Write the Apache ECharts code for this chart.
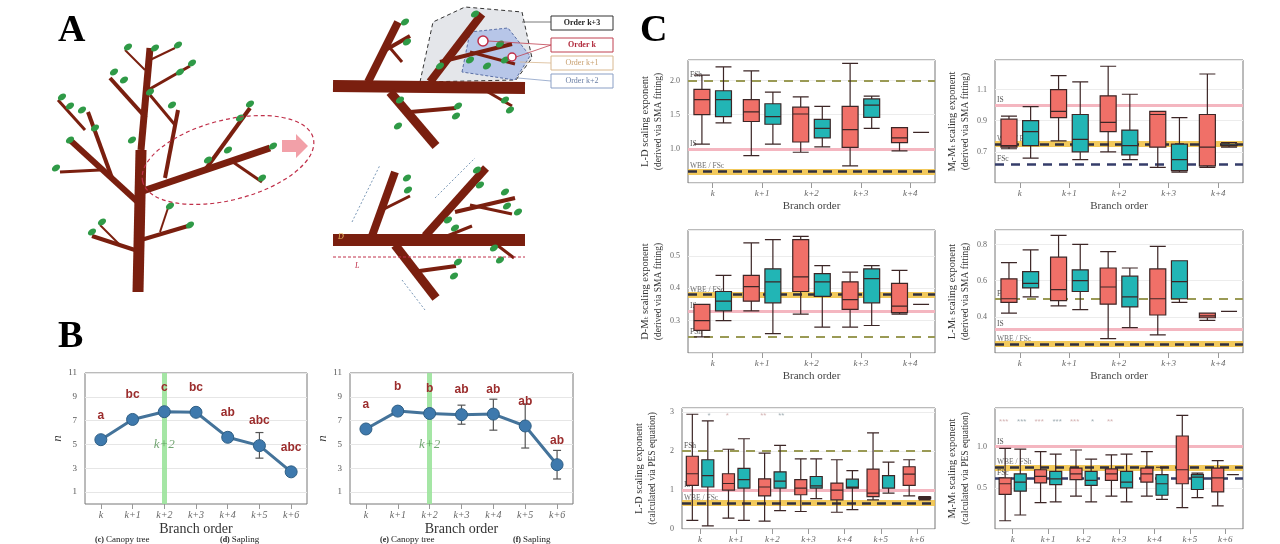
<!DOCTYPE html>
<html><head><meta charset="utf-8">
<script src="https://cdn.jsdelivr.net/npm/echarts@6/dist/echarts.min.js"></script>
<style>html,body{margin:0;padding:0;background:#fff}#c{width:1280px;height:544px}</style>
</head><body><div id="c"></div>
<script>
// ---------- Panel B data ----------
const orders7 = ['k','k+1','k+2','k+3','k+4','k+5','k+6'];
const orders5 = ['k','k+1','k+2','k+3','k+4'];
const nCanopy = [5.4, 7.1, 7.75, 7.7, 5.6, 4.9, 2.7];
const nCanopyErr = [[5.3,5.5],[7.0,7.2],[7.65,7.85],[7.6,7.8],[5.3,6.0],[3.85,6.0],[2.6,2.8]];
const nCanopyLetters = ['a','bc','c','bc','ab','abc','abc'];
const nSapling = [6.3, 7.8, 7.6, 7.5, 7.55, 6.55, 3.3];
const nSaplingErr = [[6.2,6.4],[7.7,7.9],[7.5,7.7],[6.7,8.3],[6.2,8.8],[4.7,8.4],[2.1,4.5]];
const nSaplingLetters = ['a','b','b','ab','ab','ab','ab'];
const yTicksB = [1,3,5,7,9,11];

// ---------- Panel C data: [min, Q1, median, Q3, max] ----------
const ldSmaRed  = [[1.07,1.5,1.72,1.87,2.08],[0.9,1.4,1.54,1.72,2.14],[0.95,1.1,1.51,1.61,1.76],[0.75,1.02,1.28,1.62,2.25],[0.97,1.09,1.16,1.31,1.31]];
const ldSmaTeal = [[1.38,1.47,1.72,1.85,2.2],[1.07,1.36,1.47,1.66,1.83],[1.03,1.16,1.3,1.43,1.62],[1.3,1.46,1.64,1.73,1.77],[1.24,1.24,1.24,1.24,1.24]];
const mmSmaRed  = [[0.72,0.73,0.74,0.91,0.93],[0.77,0.92,0.96,1.1,1.19],[0.7,0.83,0.89,1.06,1.25],[0.6,0.73,0.94,0.96,0.96],[0.6,0.61,0.73,0.94,1.2]];
const mmSmaTeal = [[0.66,0.74,0.83,0.9,0.99],[0.65,0.7,0.78,0.94,1.15],[0.65,0.68,0.74,0.84,1.07],[0.57,0.58,0.65,0.75,0.92],[0.73,0.74,0.74,0.75,0.76]];
const dmSmaRed  = [[0.25,0.27,0.3,0.35,0.35],[0.33,0.36,0.405,0.44,0.54],[0.32,0.39,0.435,0.55,0.56],[0.28,0.335,0.365,0.42,0.45],[0.32,0.325,0.345,0.415,0.455]];
const dmSmaTeal = [[0.3,0.33,0.36,0.39,0.44],[0.26,0.355,0.42,0.46,0.55],[0.28,0.375,0.42,0.445,0.47],[0.285,0.355,0.43,0.46,0.47],[0.35,0.35,0.35,0.35,0.35]];
const lmSmaRed  = [[0.42,0.48,0.5,0.61,0.7],[0.46,0.49,0.55,0.73,0.85],[0.28,0.47,0.565,0.67,0.76],[0.3,0.41,0.5,0.665,0.79],[0.38,0.395,0.405,0.42,0.42]];
const lmSmaTeal = [[0.51,0.56,0.585,0.65,0.77],[0.44,0.54,0.6,0.66,0.8],[0.34,0.455,0.51,0.625,0.67],[0.48,0.5,0.595,0.71,0.71],[0.43,0.43,0.43,0.43,0.43]];
const ldPesRed  = [[0.22,1.12,1.42,1.87,2.95],[0.28,1.0,1.17,1.42,2.05],[0.2,0.85,1.08,1.29,1.95],[0.45,0.88,1.05,1.27,1.8],[0.43,0.75,1.0,1.18,1.78],[0.75,0.83,0.92,1.54,2.47],[0.85,1.12,1.41,1.6,1.78]];
const ldPesTeal = [[0.08,1.08,1.37,1.78,2.78],[0.22,1.05,1.27,1.56,2.32],[0.47,1.05,1.23,1.47,2.15],[0.78,1.05,1.11,1.35,1.8],[0.5,1.05,1.08,1.28,1.5],[0.92,1.05,1.37,1.37,1.72],[0.75,0.78,0.8,0.82,0.83]];
const mmPesRed  = [[0.1,0.42,0.55,0.62,0.98],[0.32,0.56,0.64,0.72,0.94],[0.4,0.6,0.67,0.74,0.96],[0.4,0.59,0.67,0.73,0.9],[0.4,0.57,0.67,0.74,0.94],[0.26,0.55,0.72,1.13,1.38],[0.28,0.45,0.62,0.74,0.83]];
const mmPesTeal = [[0.17,0.46,0.57,0.67,0.97],[0.33,0.54,0.61,0.7,0.91],[0.33,0.53,0.59,0.7,0.85],[0.33,0.5,0.57,0.7,0.91],[0.36,0.41,0.55,0.66,0.75],[0.38,0.48,0.63,0.66,0.68],[0.66,0.66,0.66,0.66,0.66]];
const ldPesStarsRed = [['k+1',2.92,'*'],['k+2',2.92,'**']];
const ldPesStarsTeal = [['k',2.92,'*'],['k+2',2.92,'**']];
const mmPesStarsRed = [['k',1.3,'***'],['k+1',1.3,'***'],['k+2',1.3,'***'],['k+3',1.3,'**']];
const mmPesStarsTeal = [['k',1.3,'***'],['k+1',1.3,'***'],['k+2',1.3,'*']];

const SERIF = '"Liberation Serif","DejaVu Serif",serif';
const RED='#f07068', TEAL='#22b5b5';

const grids=[], xAxes=[], yAxes=[], series=[];
function addGrid(g){grids.push(Object.assign({show:true,borderColor:'#777',borderWidth:1,backgroundColor:'#fff'},g));return grids.length-1;}

// ---------- Panel B ----------
function panelB(gi, vals, errs, letters){
  xAxes.push({gridIndex:gi,type:'category',data:orders7,boundaryGap:true,
    axisLine:{show:false},axisTick:{show:true,alignWithLabel:true,lineStyle:{color:'#999'}},
    axisLabel:{fontFamily:SERIF,fontStyle:'italic',fontSize:10,color:'#666',margin:6},
    name:'Branch order',nameLocation:'middle',nameGap:18,nameTextStyle:{fontFamily:SERIF,fontSize:14,color:'#333'},
    splitLine:{show:false}});
  yAxes.push({gridIndex:gi,type:'value',min:0,max:11,interval:1,
    axisLine:{show:false},axisTick:{show:false},
    axisLabel:{fontFamily:SERIF,fontSize:9,color:'#555',formatter:v=>yTicksB.includes(v)?String(v):''},
    splitLine:{lineStyle:{color:['transparent','#e6e6e6']}},
    name:'n',nameLocation:'middle',nameGap:20,nameRotate:90,nameTextStyle:{fontFamily:SERIF,fontStyle:'italic',fontSize:13,color:'#333'}});
  const ai=xAxes.length-1;
  series.push({type:'line',xAxisIndex:ai,yAxisIndex:ai,data:[],silent:true,z:0,
    markLine:{silent:true,symbol:'none',z:0,label:{show:false},lineStyle:{color:'#9be39b',width:5,type:'solid',opacity:0.9},data:[{xAxis:'k+2'}]}});
  series.push({type:'custom',xAxisIndex:ai,yAxisIndex:ai,data:errs.map((e,i)=>[i,e[0],e[1]]),z:3,
    renderItem:(p,api)=>{const lo=api.coord([api.value(0),api.value(1)]),hi=api.coord([api.value(0),api.value(2)]);
      const st={stroke:'#555',lineWidth:1.2};
      return {type:'group',children:[
        {type:'line',shape:{x1:lo[0],y1:lo[1],x2:hi[0],y2:hi[1]},style:st},
        {type:'line',shape:{x1:lo[0]-4,y1:lo[1],x2:lo[0]+4,y2:lo[1]},style:st},
        {type:'line',shape:{x1:hi[0]-4,y1:hi[1],x2:hi[0]+4,y2:hi[1]},style:st}]};}});
  series.push({type:'line',xAxisIndex:ai,yAxisIndex:ai,data:vals,z:4,symbol:'circle',symbolSize:12,
    lineStyle:{color:'#44739a',width:3},itemStyle:{color:'#3e79ad',borderColor:'#2f5f85',borderWidth:1},
    labelLayout:{hideOverlap:false},
    label:{show:true,position:'top',distance:12,fontFamily:'Liberation Sans',fontWeight:'bold',fontSize:12,color:'#9b2c2c',
      formatter:p=>letters[p.dataIndex]}});
  series.push({type:'scatter',xAxisIndex:ai,yAxisIndex:ai,data:[['k+2',5]],symbolSize:0,z:5,
    label:{show:true,position:'inside',formatter:'k+2',fontFamily:SERIF,fontStyle:'italic',fontSize:13,color:'#4f8f4f'}});
}
panelB(addGrid({left:85,top:373,width:222,height:131}), nCanopy, nCanopyErr, nCanopyLetters);
panelB(addGrid({left:350,top:373,width:223,height:131}), nSapling, nSaplingErr, nSaplingLetters);

// ---------- Panel C ----------
function refLines(lines){
  const d=[];
  lines.forEach(l=>{
    if(l.kind==='pink') d.push({yAxis:l.y,lineStyle:{color:'#f4b6c0',width:3,type:'solid'},label:{formatter:l.t}});
    if(l.kind==='olive') d.push({yAxis:l.y,lineStyle:{color:'#9a9a55',width:2,type:[9,7]},label:{formatter:l.t}});
    if(l.kind==='navy') d.push({yAxis:l.y,lineStyle:{color:'#353d6a',width:2.5,type:[9,7]},label:{formatter:l.t}});
    if(l.kind==='wbe'){d.push({yAxis:l.y,lineStyle:{color:'#f0c040',width:6,type:'solid',opacity:0.85},label:{formatter:l.t}});
      d.push({yAxis:l.y,lineStyle:{color:'#2f2f3f',width:2.5,type:[9,6]},label:{show:false}});}
  });
  return d;
}
function panelC(g, cats, red, teal, yOpt, nameL1, nameL2, lines, showXName, starsR, starsT){
  const gi=addGrid(g);
  xAxes.push({gridIndex:gi,type:'category',data:cats,
    axisLine:{show:false},axisTick:{show:true,alignWithLabel:true,lineStyle:{color:'#999'}},
    axisLabel:{fontFamily:SERIF,fontStyle:'italic',fontSize:9,color:'#666',margin:6},
    splitLine:{show:false},
    name:showXName?'Branch order':'',nameLocation:'middle',nameGap:18,nameTextStyle:{fontFamily:SERIF,fontSize:11,color:'#444'}});
  yAxes.push({gridIndex:gi,type:'value',min:yOpt.min,max:yOpt.max,interval:yOpt.interval,
    axisLine:{show:false},axisTick:{show:false},
    splitLine:{lineStyle:{color:'#ececec'}},
    name:'{a|'+nameL1+'}\n{b|'+nameL2+'}',nameLocation:'middle',nameGap:24,nameRotate:90,
    nameTextStyle:{rich:{a:{fontFamily:SERIF,fontSize:10.5,color:'#333',lineHeight:13},b:{fontFamily:SERIF,fontSize:9.5,color:'#333',lineHeight:12}}},
    axisLabel:{fontFamily:SERIF,fontSize:8,color:'#666',formatter:v=>yOpt.show.some(s=>Math.abs(s-v)<1e-6)?v.toFixed(yOpt.dec):''}});
  const ai=xAxes.length-1;
  const box=(data,color)=>({type:'boxplot',xAxisIndex:ai,yAxisIndex:ai,data:data,boxWidth:[12,16],
    itemStyle:{color:color,borderColor:'#3c2626',borderWidth:1.2}});
  const r=box(red,RED);
  r.markLine={silent:true,symbol:'none',z:1,label:{show:true,position:'insideStartTop',distance:[2,1],fontFamily:SERIF,fontSize:7.5,color:'#555'},data:refLines(lines)};
  series.push(r); series.push(box(teal,TEAL));
  if(starsR){
    series.push({type:'scatter',xAxisIndex:ai,yAxisIndex:ai,data:starsR,symbolSize:0,label:{show:true,position:'inside',offset:[-9,0],formatter:p=>p.data[2],fontSize:8,color:'#c9a0a0'}});
    series.push({type:'scatter',xAxisIndex:ai,yAxisIndex:ai,data:starsT,symbolSize:0,label:{show:true,position:'inside',offset:[9,0],formatter:p=>p.data[2],fontSize:8,color:'#8a9aa0'}});
  }
}
panelC({left:688,top:60,width:247,height:123},orders5,ldSmaRed,ldSmaTeal,{min:0.5,max:2.3,interval:0.5,show:[1,1.5,2],dec:1},
  'L-D scaling exponent','(derived via SMA fitting)',
  [{kind:'olive',y:2.0,t:'FSh'},{kind:'pink',y:1.0,t:'IS'},{kind:'wbe',y:0.67,t:'WBE / FSc'}],true);
panelC({left:995,top:60,width:248,height:123},orders5,mmSmaRed,mmSmaTeal,{min:0.5,max:1.29,interval:0.2,show:[0.7,0.9,1.1],dec:1},
  'Mᵢ-Mₜ scaling exponent','(derived via SMA fitting)',
  [{kind:'pink',y:1.0,t:'IS'},{kind:'wbe',y:0.75,t:'WBE / FSh'},{kind:'navy',y:0.62,t:'FSc'}],true);
panelC({left:688,top:230,width:247,height:123},orders5,dmSmaRed,dmSmaTeal,{min:0.2,max:0.58,interval:0.1,show:[0.3,0.4,0.5],dec:1},
  'D-Mₜ scaling exponent','(derived via SMA fitting)',
  [{kind:'wbe',y:0.375,t:'WBE / FSc'},{kind:'pink',y:0.333,t:'IS'},{kind:'olive',y:0.25,t:'FSh'}],true);
panelC({left:995,top:230,width:248,height:123},orders5,lmSmaRed,lmSmaTeal,{min:0.2,max:0.88,interval:0.2,show:[0.4,0.6,0.8],dec:1},
  'L-Mₜ scaling exponent','(derived via SMA fitting)',
  [{kind:'olive',y:0.5,t:'FSh'},{kind:'pink',y:0.333,t:'IS'},{kind:'wbe',y:0.25,t:'WBE / FSc'}],true);
panelC({left:682,top:408,width:253,height:124},orders7,ldPesRed,ldPesTeal,{min:0,max:3.11,interval:1,show:[0,1,2,3],dec:0},
  'L-D scaling exponent','(calculated via PES equation)',
  [{kind:'olive',y:2.0,t:'FSh'},{kind:'pink',y:1.0,t:'IS'},{kind:'wbe',y:0.67,t:'WBE / FSc'}],false,ldPesStarsRed,ldPesStarsTeal);
panelC({left:995,top:408,width:248,height:124},orders7,mmPesRed,mmPesTeal,{min:0,max:1.47,interval:0.5,show:[0.5,1],dec:1},
  'Mᵢ-Mₜ scaling exponent','(calculated via PES equation)',
  [{kind:'pink',y:1.0,t:'IS'},{kind:'wbe',y:0.75,t:'WBE / FSh'},{kind:'navy',y:0.62,t:'FSc'}],false,mmPesStarsRed,mmPesStarsTeal);

// ---------- Panel A illustration (graphic) ----------
const BROWN='#7a1f0f', LEAF='#2f9a47';
const segs=[
 [138,292,141,150,11],[141,150,150,48,7],[141,205,70,140,6],[100,170,60,172,3],[112,178,88,112,4],[85,130,58,100,3],
 [140,192,270,148,7],[205,170,250,108,4],[230,160,262,182,3],[165,178,178,110,4],[175,125,150,95,3],
 [146,118,110,78,4],[148,90,190,66,3],[141,240,188,226,4],[141,252,92,236,4],[120,245,100,225,2],[160,232,168,208,2],
 [145,70,125,50,2],[150,60,175,48,2]];
const leaves=[[62,97],[70,106],[56,168],[82,110],[95,128],[114,72],[124,80],[192,63],[180,72],[172,105],[150,92],[250,104],[240,118],[262,178],
 [273,146],[228,150],[208,160],[190,225],[92,232],[102,222],[170,206],[155,48],[128,47],[178,45],[70,140],[132,140]];
const segsTR=[[333,86,525,88,12],[368,82,398,22,8],[382,52,410,36,4],[385,42,402,62,3],[430,82,482,14,8],[440,62,512,44,4],[470,52,515,64,3],
 [390,92,436,146,9],[410,112,456,108,4],[488,92,512,106,3]];
const leavesTR=[[405,22],[407,42],[475,14],[470,60],[487,66],[500,44],[505,60],[440,66],[458,106],[456,116],[505,100],[510,110],[400,100],[398,126]];
const segsBR=[[333,240,525,240,12],[372,236,395,172,8],[382,210,410,196,3],[425,236,486,168,8],[455,212,515,198,4],[470,205,512,214,3],
 [447,236,472,226,3],[395,245,436,298,9],[412,272,456,266,4],[497,245,514,258,3]];
const leavesBR=[[407,178],[408,190],[477,170],[480,185],[505,192],[507,206],[518,212],[455,228],[448,220],[458,262],[454,276],[494,248],[500,260]];
const gEls=[];
function drawTree(sg,lv){
  sg.forEach(s=>gEls.push({type:'line',shape:{x1:s[0],y1:s[1],x2:s[2],y2:s[3]},style:{stroke:BROWN,lineWidth:s[4],lineCap:'butt'},z:10}));
  lv.forEach(l=>gEls.push({type:'ellipse',shape:{cx:l[0],cy:l[1],rx:4.5,ry:3},rotation:0.6,originX:l[0],originY:l[1],style:{fill:LEAF},z:11}));
}
gEls.push({type:'polygon',shape:{points:[[420,82],[433,22],[465,7],[522,12],[532,58],[516,80]]},style:{fill:'#e4e6ea',stroke:'#333',lineDash:[4,3],lineWidth:1},z:5});
gEls.push({type:'polygon',shape:{points:[[462,72],[470,32],[508,28],[530,56],[515,80]]},style:{fill:'#b7c6e8',stroke:'#5a6fa5',lineDash:[3,2],lineWidth:1},z:6});
drawTree(segs,leaves); drawTree(segsTR,leavesTR); drawTree(segsBR,leavesBR);
gEls.push({type:'ellipse',shape:{cx:228,cy:160,rx:88,ry:40},rotation:0.25,originX:228,originY:160,style:{fill:'none',stroke:'#c0304a',lineDash:[4,3],lineWidth:1.2},z:12});
gEls.push({type:'polygon',shape:{points:[[282,140],[296,140],[296,134],[308,146],[296,158],[296,152],[282,152]]},style:{fill:'#f2a0a8'},z:12});
gEls.push({type:'circle',shape:{cx:483,cy:41,r:5},style:{fill:'#fff',stroke:'#c0304a',lineWidth:1.5},z:13});
gEls.push({type:'circle',shape:{cx:512,cy:57,r:4},style:{fill:'#fff',stroke:'#c0304a',lineWidth:1.5},z:13});
const boxes=[['Order k+3',16,'#222','#333',true],['Order k',38,'#b0283a','#c04050',true],['Order k+1',56,'#c8a070','#d8b890',false],['Order k+2',74,'#6a7fa5','#8a9fc5',false]];
boxes.forEach(b=>{
  gEls.push({type:'rect',shape:{x:551,y:b[1],width:62,height:14},style:{fill:'#fff',stroke:b[3],lineWidth:1},z:12});
  gEls.push({type:'text',x:582,y:b[1]+7,style:{text:b[0],fill:b[2],font:(b[4]?'bold ':'')+'8px "Liberation Serif"',align:'center',verticalAlign:'middle'},z:13});
});
gEls.push({type:'polyline',shape:{points:[[522,22],[551,22]]},style:{stroke:'#555',lineWidth:0.8},z:12});
gEls.push({type:'polyline',shape:{points:[[488,41],[551,45],[516,57]]},style:{stroke:'#c04050',fill:'none',lineWidth:0.8},z:12});
gEls.push({type:'polyline',shape:{points:[[520,62],[551,63]]},style:{stroke:'#d8b890',lineWidth:0.8},z:12});
gEls.push({type:'polyline',shape:{points:[[518,78],[551,81]]},style:{stroke:'#8a9fc5',lineWidth:0.8},z:12});
gEls.push({type:'line',shape:{x1:333,y1:257,x2:525,y2:257},style:{stroke:'#c0304a',lineDash:[3,2],lineWidth:1},z:12});
gEls.push({type:'text',x:355,y:262,style:{text:'L',fill:'#c0304a',font:'italic 8px "Liberation Serif"'},z:13});
gEls.push({type:'text',x:338,y:233,style:{text:'D',fill:'#e8b860',font:'italic 8px "Liberation Serif"'},z:13});
gEls.push({type:'line',shape:{x1:352,y1:222,x2:380,y2:165},style:{stroke:'#5a7fa5',lineDash:[2,2],lineWidth:0.8},z:12});
gEls.push({type:'line',shape:{x1:435,y1:198,x2:475,y2:158},style:{stroke:'#5a7fa5',lineDash:[2,2],lineWidth:0.8},z:12});
gEls.push({type:'line',shape:{x1:402,y1:280,x2:425,y2:310},style:{stroke:'#5a7fa5',lineDash:[2,2],lineWidth:0.8},z:12});
[['A',58,12],['B',58,318],['C',640,12]].forEach(t=>gEls.push({type:'text',x:t[1],y:t[2],style:{text:t[0],fill:'#000',font:'bold 38px "Liberation Serif"'},z:20}));
[['(c) ','Canopy tree',95],['(d) ','Sapling',220],['(e) ','Canopy tree',380],['(f) ','Sapling',513]].forEach(t=>
  gEls.push({type:'text',x:t[2],y:535,style:{text:'{a|'+t[0]+'}{b|'+t[1]+'}',rich:{a:{font:'bold 8px "Liberation Serif"',fill:'#222'},b:{font:'9px "Liberation Serif"',fill:'#222'}}},z:20}));

const chart=echarts.init(document.getElementById('c'),null,{renderer:'canvas'});
chart.setOption({animation:false,backgroundColor:'#fff',grid:grids,xAxis:xAxes,yAxis:yAxes,series:series,graphic:{elements:gEls}});
</script></body></html>
